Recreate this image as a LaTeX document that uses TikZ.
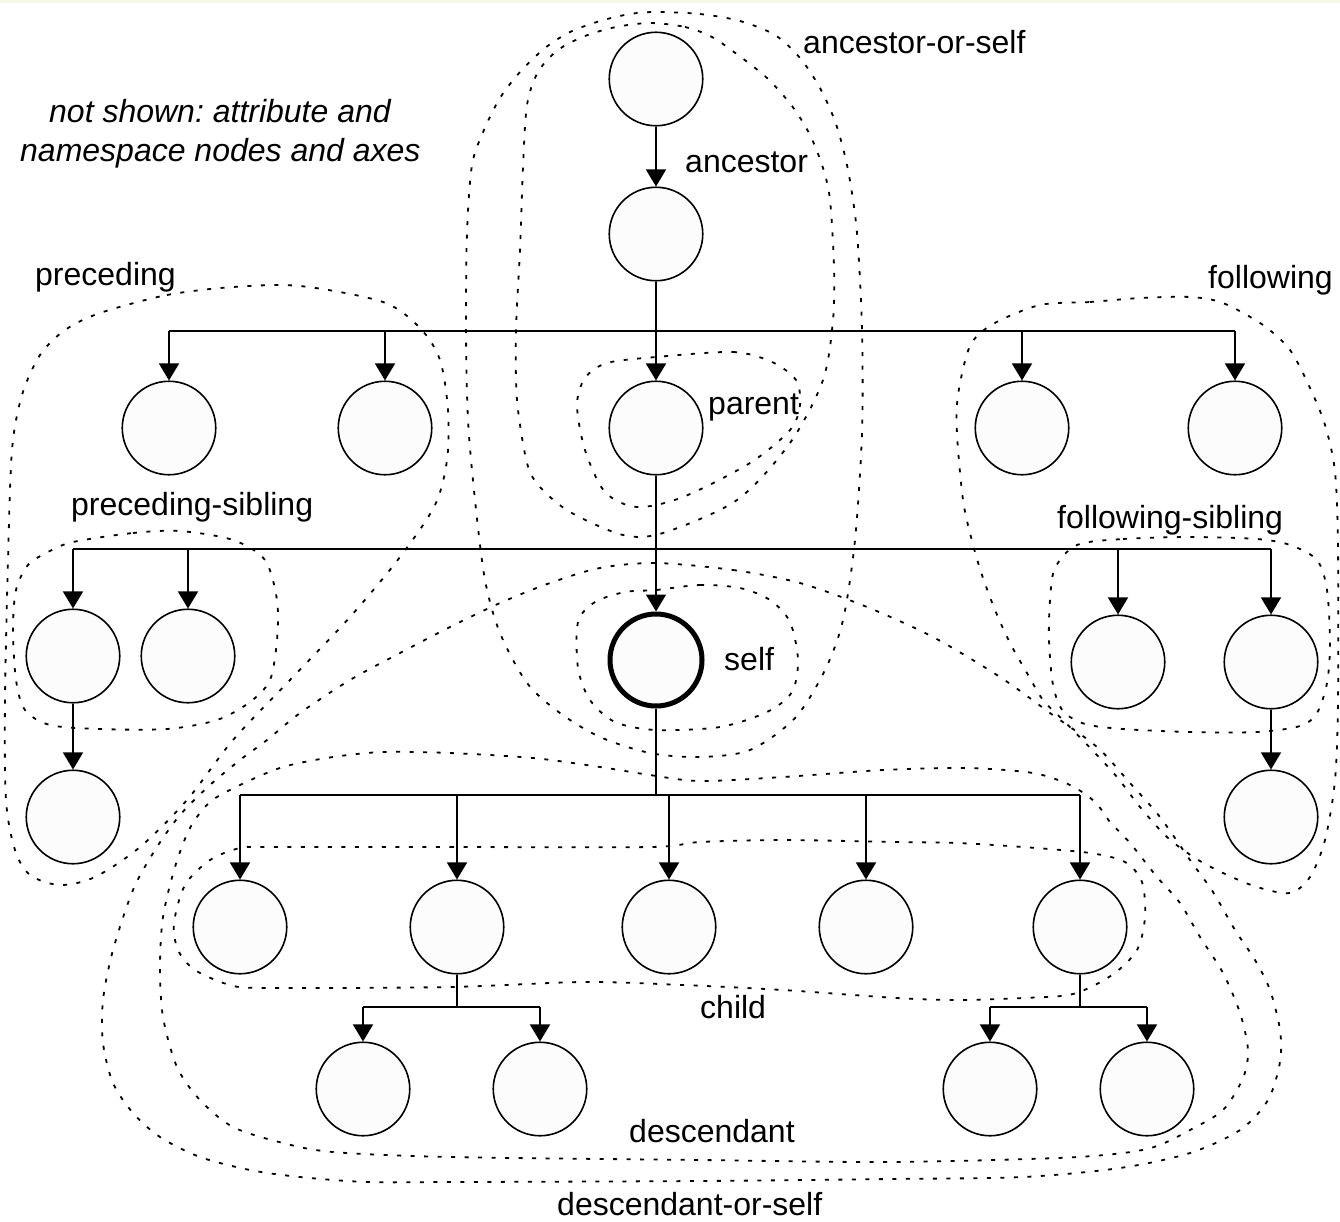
\documentclass[tikz,border=0pt]{standalone}
\usepackage{fontspec}
\setmainfont{Liberation Sans}
\usetikzlibrary{arrows.meta}
\definecolor{nodefill}{RGB}{252,252,252}
\definecolor{topband}{RGB}{247,247,232}
\frenchspacing
\begin{document}
\begin{tikzpicture}[x=1pt,y=-1pt,
  nd/.style={circle,draw,line width=1.6pt,fill=nodefill,minimum size=93.5pt,inner sep=0pt},
  selfnd/.style={nd,line width=5pt,minimum size=92pt},
  link/.style={line width=1.6pt},
  arr/.style={link,-{Triangle[width=20pt,length=17pt]}},
  region/.style={line width=1.8pt,dash pattern=on 4pt off 9.5pt},
  lbl/.style={inner sep=0pt,anchor=base west,font=\fontsize{32}{38}\selectfont},
  note/.style={inner sep=0pt,anchor=base west,font=\fontsize{32}{38}\selectfont\itshape}
]
\useasboundingbox (0,0) rectangle (1340,1221);
\fill[topband] (0,0) rectangle (1340,3);

% ---- axis regions (dotted outlines) ----
% ancestor-or-self
\draw[region] plot[smooth cycle] coordinates {
 (656,12) (700,14) (740,21) (775,35) (800,58) (820,88) (836,124) (848,170)
 (857,233) (862,330) (862,433) (855,540) (843,620) (825,670) (795,718) (750,750)
 (700,757) (650,753) (600,737) (560,713) (527,683) (500,633) (485,580) (475,500)
 (468,420) (466,330) (467,233) (472,165) (484,130) (500,98) (520,72) (545,48)
 (570,32) (600,21) (630,14)};
% ancestor
\draw[region] plot[smooth cycle] coordinates {
 (650,23) (685,27) (712,37) (738,55) (767,78) (792,106) (810,135) (823,168)
 (830,200) (834,267) (833,320) (823,380) (790,443) (737,500) (663,533) (623,535)
 (570,512) (540,487) (527,463) (517,400) (516,330) (520,250) (523,167) (527,105)
 (538,72) (558,50) (585,36) (616,27)};
% parent
\draw[region] plot[smooth cycle] coordinates {
 (656,357) (733,352) (772,362) (796,380) (800,405) (790,430) (750,463) (683,497)
 (637,507) (605,492) (585,450) (577,405) (585,378) (607,363)};
% self
\draw[region] plot[smooth cycle] coordinates {
 (656,590) (700,585) (740,588) (770,600) (790,622) (798,660) (792,692) (767,712)
 (720,727) (656,730) (615,722) (590,700) (578,668) (578,622) (595,602) (625,592)};
% preceding
\draw[region] plot[smooth cycle] coordinates {
 (100,313) (167,295) (233,287) (300,286) (383,302) (420,328) (440,360) (448,410)
 (447,460) (435,505) (400,557) (350,617) (290,680) (233,740) (187,800) (140,847)
 (95,877) (60,885) (30,875) (15,850) (6,800) (5,700) (8,560) (12,450) (22,395)
 (40,355) (65,330)};
% preceding-sibling
\draw[region] plot[smooth cycle] coordinates {
 (73,542) (133,533) (180,531) (233,540) (265,560) (277,600) (277,640) (270,680)
 (250,702) (217,720) (167,729) (100,729) (50,725) (25,710) (16,680) (13,630)
 (16,590) (28,565) (48,552)};
% following
\draw[region] plot[smooth cycle] coordinates {
 (1040,305) (1090,302) (1140,298) (1190,297) (1223,303) (1263,325) (1290,350)
 (1310,388) (1325,425) (1335,472) (1338,550) (1338,700) (1335,780) (1325,840)
 (1310,877) (1290,893) (1257,887) (1223,873) (1195,858) (1167,837) (1140,807)
 (1117,777) (1095,753) (1063,720) (1043,700) (1027,673) (1010,643) (995,610)
 (982,575) (972,541) (963,500) (957,434) (958,395) (970,346) (993,324)};
% following-sibling
\draw[region] plot[smooth cycle] coordinates {
 (1077,545) (1123,539) (1190,537) (1257,539) (1290,545) (1317,560) (1327,590)
 (1330,644) (1327,683) (1317,713) (1300,726) (1257,732) (1190,732) (1123,729)
 (1085,724) (1063,711) (1053,685) (1049,640) (1050,600) (1055,568)};
% descendant-or-self
\draw[region] plot[smooth cycle] coordinates {
 (656,563) (733,570) (800,583) (867,607) (933,637) (1000,677) (1050,713)
 (1097,747) (1130,783) (1160,817) (1190,860) (1213,892) (1235,930) (1255,960)
 (1270,990) (1280,1030) (1280,1062) (1268,1100) (1240,1130) (1190,1153)
 (1120,1168) (1023,1177) (890,1179) (700,1181) (450,1182) (367,1182) (300,1177)
 (250,1170) (200,1157) (160,1137) (133,1113) (113,1083) (103,1043) (103,1000)
 (113,950) (133,890) (155,850) (180,815) (210,785) (240,760) (267,740) (300,713)
 (350,680) (400,653) (450,627) (500,603) (550,583) (600,568)};
% descendant
\draw[region] plot[smooth cycle] coordinates {
 (383,752) (450,753) (533,758) (600,767) (650,775) (700,781) (783,777) (883,770)
 (967,768) (1033,773) (1070,785) (1095,802) (1110,822) (1130,843) (1157,877)
 (1180,903) (1200,937) (1223,973) (1240,1013) (1248,1050) (1243,1078) (1223,1110)
 (1190,1130) (1157,1146) (1123,1153) (1057,1158) (890,1162) (700,1160) (450,1157)
 (333,1152) (283,1143) (233,1127) (200,1100) (177,1067) (163,1017) (160,967)
 (163,917) (175,867) (190,828) (210,802) (240,785) (283,767) (333,757)};
% child
\draw[region] plot[smooth cycle] coordinates {
 (270,847) (450,847) (650,847) (700,842) (783,840) (897,842) (957,843) (1023,847)
 (1090,853) (1125,862) (1142,882) (1145,917) (1137,950) (1112,975) (1073,994)
 (1023,998) (957,1000) (897,998) (783,990) (683,985) (583,982) (450,987) (267,988)
 (230,985) (195,970) (178,950) (174,923) (185,885) (210,860) (240,848)};

% ---- tree nodes ----
\node[nd] (a1) at (656,79) {};
\node[nd] (a2) at (656,234) {};
\node[nd] (p1) at (169,428) {};
\node[nd] (p2) at (385,428) {};
\node[nd] (par) at (656,428) {};
\node[nd] (f1) at (1022,428) {};
\node[nd] (f2) at (1235,428) {};
\node[nd] (ps1) at (73,656) {};
\node[nd] (ps2) at (188,656) {};
\node[selfnd] (self) at (656,660) {};
\node[nd] (fs1) at (1118,662) {};
\node[nd] (fs2) at (1271,662) {};
\node[nd] (ps1c) at (73,817) {};
\node[nd] (fs2c) at (1271,817) {};
\node[nd] (c1) at (240,927) {};
\node[nd] (c2) at (457,927) {};
\node[nd] (c3) at (669,927) {};
\node[nd] (c4) at (866,927) {};
\node[nd] (c5) at (1080,927) {};
\node[nd] (g1) at (363,1089) {};
\node[nd] (g2) at (540,1089) {};
\node[nd] (g3) at (990,1089) {};
\node[nd] (g4) at (1147,1089) {};

% ---- bus junctions ----
\coordinate (bus1) at (656,331);
\coordinate (bus2) at (656,549);
\coordinate (bus3) at (656,795);
\coordinate (bus4) at (457,1007);
\coordinate (bus5) at (1080,1007);

% ---- connectors ----
\draw[arr] (a1) -- (a2);
\draw[link] (a2) -- (bus1);
\draw[link] (p1 |- bus1) -- (f2 |- bus1);
\foreach \n in {p1,p2,par,f1,f2} \draw[arr] (\n |- bus1) -- (\n);
\draw[link] (par) -- (bus2);
\draw[link] (ps1 |- bus2) -- (fs2 |- bus2);
\foreach \n in {ps1,ps2,self,fs1,fs2} \draw[arr] (\n |- bus2) -- (\n);
\draw[arr] (ps1) -- (ps1c);
\draw[arr] (fs2) -- (fs2c);
\draw[link] (self) -- (bus3);
\draw[link] (c1 |- bus3) -- (c5 |- bus3);
\foreach \n in {c1,c2,c3,c4,c5} \draw[arr] (\n |- bus3) -- (\n);
\draw[link] (c2) -- (bus4);
\draw[link] (g1 |- bus4) -- (g2 |- bus4);
\foreach \n in {g1,g2} \draw[arr] (\n |- bus4) -- (\n);
\draw[link] (c5) -- (bus5);
\draw[link] (g3 |- bus5) -- (g4 |- bus5);
\foreach \n in {g3,g4} \draw[arr] (\n |- bus5) -- (\n);

% ---- labels ----
\node[lbl] (tAoS) at (803,53) {ancestor-or-self};
\node[lbl] (tA) at (685,172) {ancestor};
\node[lbl] (tPar) at (708,414) {parent};
\node[lbl] (tSelf) at (724,670) {self};
\node[lbl] (tPre) at (35,285) {preceding};
\node[lbl] (tFol) at (1208,288) {following};
\node[lbl] (tPS) at (71,515) {preceding-sibling};
\node[lbl] (tFS) at (1057,528) {following-sibling};
\node[lbl] (tCh) at (700,1018) {child};
\node[lbl] (tDe) at (629,1142) {descendant};
\node[lbl] (tDoS) at (557,1215) {descendant-or-self};
\node[note] (n1) at (49,122) {not shown: attribute and};
\node[note] (n2) at (20,161) {namespace nodes and axes};
\end{tikzpicture}
\end{document}
